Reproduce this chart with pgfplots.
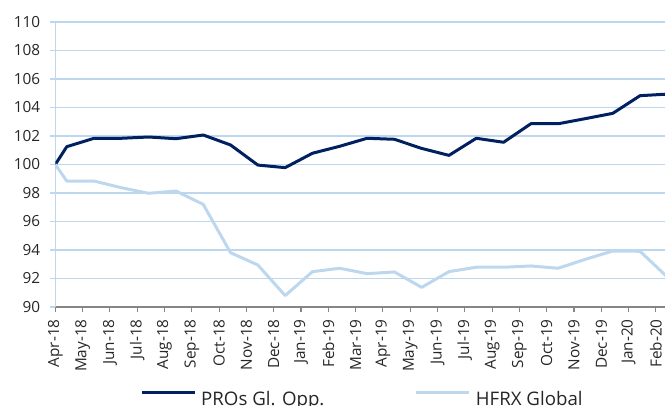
\documentclass[border=0pt]{standalone}
\usepackage{pgfplots}
\pgfplotsset{compat=1.18}
\usepackage{fontspec}
\setmainfont{Open Sans}
\definecolor{navy}{RGB}{0,32,96}
\definecolor{lblue}{RGB}{189,215,238}
\definecolor{axgray}{RGB}{134,134,134}
\definecolor{txt}{RGB}{38,38,38}
\begin{document}
\begin{tikzpicture}
\begin{scope}
\clip (-41.475pt,-73.5pt) rectangle (457.275pt,230.25pt);
\begin{axis}[
  at={(0,0)}, anchor=south west,
  x=20.475pt, y=10.6875pt,
  xmin=0, xmax=22.6, ymin=90, ymax=110,
  axis x line*=bottom, axis y line*=left,
  x axis line style={draw=axgray, line width=0.8pt},
  y axis line style={draw=lblue, line width=1.1pt},
  xtick={0,...,22},
  xticklabels={Apr-18,May-18,Jun-18,Jul-18,Aug-18,Sep-18,Oct-18,Nov-18,Dec-18,Jan-19,Feb-19,Mar-19,Apr-19,May-19,Jun-19,Jul-19,Aug-19,Sep-19,Oct-19,Nov-19,Dec-19,Jan-20,Feb-20},
  ytick={90,92,...,110},
  tick align=outside,
  major tick length=3.75pt,
  xtick style={draw=axgray, line width=0.8pt},
  ytick style={draw=lblue, line width=0.9pt},
  ymajorgrids,
  major grid style={draw=lblue, line width=0.9pt},
  /pgf/number format/assume math mode=true,
  yticklabel style={font=\fontsize{11.5}{13}\selectfont, text=txt, xshift=-4pt},
  xticklabel style={font=\fontsize{11.5}{13}\selectfont, text=txt, yshift=-2pt, rotate=90, anchor=east},
  legend columns=2,
  legend style={draw=none, fill=none, at={(0.1372,-0.3235)}, anchor=west,
    font=\fontsize{14}{16}\selectfont, text=txt, inner sep=0pt,
    nodes={inner sep=0pt}, column sep=0pt,
    /tikz/every odd column/.style={column sep=3.75pt}},
  legend image code/.code={\draw[#1] (0pt,5pt) -- (39.75pt,5pt);},
]
\addplot[navy, line width=2.25pt, line join=round] coordinates {
(0,100) (0.42,101.25) (1.42,101.84) (2.42,101.84) (3.42,101.93) (4.42,101.81) (5.42,102.07) (6.42,101.37) (7.42,99.96) (8.42,99.78) (9.42,100.79) (10.42,101.28) (11.42,101.84) (12.42,101.77) (13.42,101.13) (14.42,100.64) (15.42,101.84) (16.42,101.56) (17.42,102.86) (18.42,102.86) (19.42,103.22) (20.42,103.59) (21.42,104.83) (22.42,104.94)};
\addlegendentry{\makebox[160.3pt][l]{PROs Gl. Opp.}}
\addplot[lblue, line width=2.25pt, line join=round] coordinates {
(0,100) (0.42,98.84) (1.42,98.84) (2.42,98.37) (3.42,97.98) (4.42,98.14) (5.42,97.2) (6.42,93.81) (7.42,92.95) (8.42,90.8) (9.42,92.48) (10.42,92.72) (11.42,92.34) (12.42,92.46) (13.42,91.38) (14.42,92.48) (15.42,92.79) (16.42,92.79) (17.42,92.88) (18.42,92.72) (19.42,93.35) (20.42,93.93) (21.42,93.91) (22.42,92.1)};
\addlegendentry{HFRX Global}
\end{axis}
\end{scope}
\pgfresetboundingbox
\useasboundingbox (-41.475pt,-73.5pt) rectangle (457.275pt,230.25pt);
\end{tikzpicture}
\end{document}
